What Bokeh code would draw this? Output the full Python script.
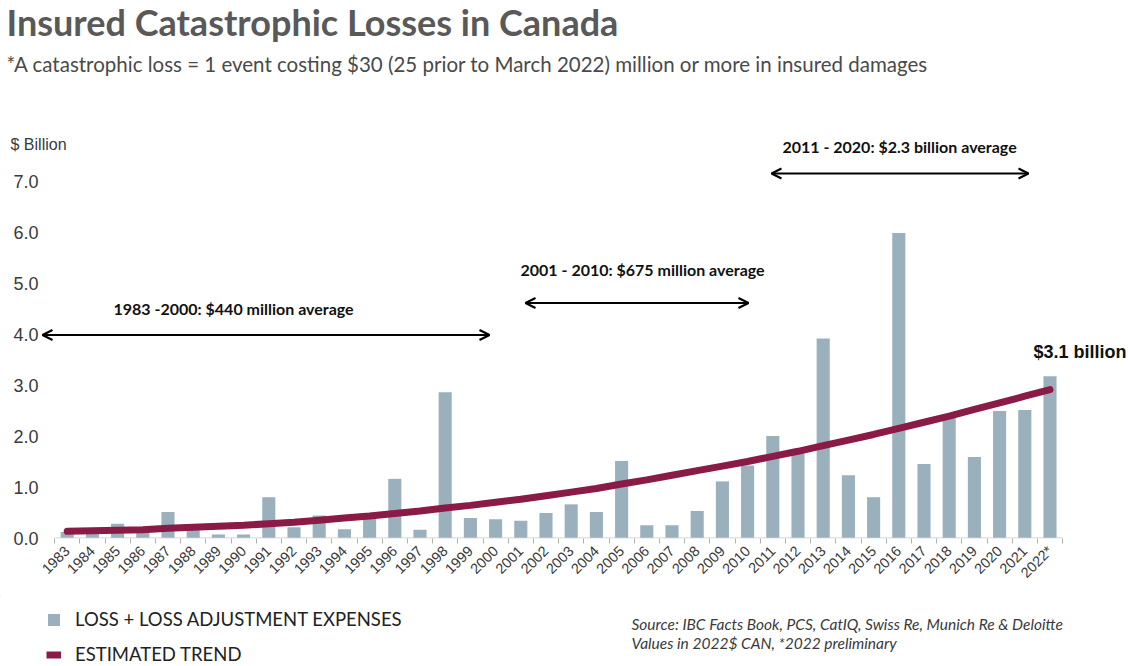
from math import pi
from bokeh.plotting import figure
from bokeh.layouts import column
from bokeh.models import (Range1d, FixedTicker, Label, Arrow, OpenHead, Legend,
                          LegendItem, ColumnDataSource, PrintfTickFormatter)
from bokeh.embed import file_html
from bokeh.resources import INLINE

# ---------------- data ----------------
years = list(range(1983, 2023))
year_labels = [str(y) for y in years[:-1]] + ["2022*"]
losses = [0.12, 0.13, 0.28, 0.15, 0.51, 0.20, 0.07, 0.07, 0.80, 0.21,
          0.44, 0.17, 0.40, 1.16, 0.16, 2.86, 0.39, 0.37, 0.34, 0.49,
          0.66, 0.51, 1.51, 0.25, 0.25, 0.53, 1.11, 1.42, 2.00, 1.66,
          3.91, 1.23, 0.80, 5.98, 1.45, 2.42, 1.59, 2.49, 2.51, 3.17]
trend = [0.13, 0.14, 0.15, 0.16, 0.19, 0.21, 0.23, 0.25, 0.28, 0.31,
         0.35, 0.39, 0.43, 0.48, 0.53, 0.59, 0.64, 0.70, 0.76, 0.83,
         0.90, 0.97, 1.06, 1.14, 1.23, 1.32, 1.41, 1.50, 1.60, 1.70,
         1.81, 1.92, 2.03, 2.15, 2.27, 2.39, 2.52, 2.65, 2.78, 2.91]
y_ticks = [0, 1, 2, 3, 4, 5, 6, 7]

BAR = "#9bb0bd"
TREND = "#8a1a46"
TXT = "#3a3a3a"
W = 1128
H_TOP = 156      # header panel height
M_BOT = 595      # main panel bottom (page px)
PAGE_H = 666

# page-pixel helpers (reference layout)
def px2yr(px):
    return years[0] + (px - 66.7) / 25.2

def px2y(py):
    return (537.5 - py) / 51.0

def blank(height):
    f = figure(width=W, height=height, output_backend="svg", toolbar_location=None,
               x_range=Range1d(0, W), y_range=Range1d(height, 0),
               x_axis_location=None, y_axis_location=None, title_location=None,
               min_border=0, min_border_left=0, min_border_right=0,
               min_border_top=0, min_border_bottom=0, frame_align=False)
    f.grid.visible = False
    f.outline_line_color = None
    f.background_fill_color = "white"
    f.border_fill_color = "white"
    return f

# ---------------- header ----------------
hdr = blank(H_TOP)
hdr.add_layout(Label(x=6, y=21, text="Insured Catastrophic Losses in Canada",
                     text_font="Lato", text_font_style="bold", text_font_size="36px",
                     text_color="#595959", text_baseline="alphabetic"))
hdr.add_layout(Label(x=6, y=63.5,
                     text="*A catastrophic loss = 1 event costing $30 (25 prior to March 2022) million or more in insured damages",
                     text_font="Lato", text_font_size="20.5px", text_color="#4a4a4a",
                     text_baseline="alphabetic"))
hdr.add_layout(Label(x=10, y=143.5, text="$ Billion", text_font="Liberation Sans",
                     text_font_size="16px", text_color=TXT, text_baseline="alphabetic"))
hdr.add_layout(Label(x=901, y=145.5, text="2011 - 2020:  $2.3 billion average", text_font="Lato",
                     text_font_style="bold", text_font_size="16px", text_color="#111111",
                     text_align="center", text_baseline="alphabetic"))

# ---------------- main chart ----------------
p = figure(width=W, height=M_BOT - H_TOP, output_backend="svg", toolbar_location=None,
           x_range=Range1d(px2yr(40), px2yr(W)),
           y_range=Range1d(px2y(538), px2y(H_TOP)),
           min_border_left=40, min_border_right=0, min_border_top=0,
           min_border_bottom=M_BOT - 538, frame_align=False)
p.grid.visible = False
p.outline_line_color = None
p.background_fill_color = "white"
p.border_fill_color = "white"

src = ColumnDataSource(dict(x=years, loss=losses, trend=trend))
bars = p.vbar(x="x", top="loss", width=0.52, source=src, fill_color=BAR,
              line_color=None)
tr = p.line(x="x", y="trend", source=src, line_width=7, line_color=TREND,
            line_cap="round")
p.segment(x0=[years[0] - 0.5], y0=[0], x1=[years[-1] + 0.5], y1=[0],
          line_color="#c8c8c8", line_width=1)

xa = p.xaxis[0]
xa.ticker = FixedTicker(ticks=years, minor_ticks=[y - 0.5 for y in years] + [years[-1] + 0.5])
xa.major_label_overrides = {y: lab for y, lab in zip(years, year_labels)}
xa.major_label_orientation = pi / 4
xa.major_tick_line_color = None
xa.major_tick_out = 0
xa.minor_tick_line_color = "#b0b0b0"
xa.minor_tick_out = 5
xa.minor_tick_in = 0
xa.axis_line_color = None
xa.major_label_text_font = "Liberation Sans"
xa.major_label_text_font_size = "14.5px"
xa.major_label_text_color = TXT
xa.major_label_standoff = 5

ya = p.yaxis[0]
ya.ticker = FixedTicker(ticks=y_ticks)
ya.formatter = PrintfTickFormatter(format="%.1f")
ya.axis_line_color = None
ya.major_tick_line_color = None
ya.major_tick_out = 0
ya.minor_tick_line_color = None
ya.major_label_standoff = 2
ya.major_label_text_font = "Liberation Sans"
ya.major_label_text_font_size = "18px"
ya.major_label_text_color = TXT

def arrow(ax0, ax1, ay):
    p.add_layout(Arrow(start=OpenHead(size=10, line_width=2.2, line_color="black"),
                       end=OpenHead(size=10, line_width=2.2, line_color="black"),
                       x_start=px2yr(ax0), y_start=px2y(ay), x_end=px2yr(ax1), y_end=px2y(ay),
                       line_width=2, line_color="black"))

def note(text, cx, base_y):
    p.add_layout(Label(x=px2yr(cx), y=px2y(base_y), text=text, text_font="Lato",
                       text_font_style="bold", text_font_size="16px", text_color="#111111",
                       text_align="center", text_baseline="alphabetic"))

note("1983 -2000:  $440 million average", 235, 308)
arrow(42, 489, 334.5)
note("2001 - 2010:  $675 million average", 644, 268.5)
arrow(525, 748, 302.5)
arrow(771, 1028, 173)

p.add_layout(Label(x=px2yr(1033), y=px2y(351.5), text="$3.1 billion", text_font="Liberation Sans",
                   text_font_style="bold", text_font_size="18px", text_color="#111111",
                   text_baseline="alphabetic"))

# ---------------- footer ----------------
ftr_h = PAGE_H - M_BOT
ftr = blank(ftr_h)
# legend proxies (kept outside the visible range; only their styles are shown)
lb = ftr.vbar(x=[-9999], top=[1], width=1, fill_color=BAR, line_color=None)
ll = ftr.line(x=[-9999, -9998], y=[1, 1], line_width=7, line_color=TREND)
legend = Legend(items=[LegendItem(label="LOSS + LOSS ADJUSTMENT EXPENSES", renderers=[lb]),
                       LegendItem(label="ESTIMATED TREND", renderers=[ll])],
                location=(46, 1), orientation="vertical",
                border_line_color=None, background_fill_alpha=0,
                label_text_font="Lato", label_text_font_size="18.5px",
                label_text_color="#222222", label_height=20,
                glyph_width=15, glyph_height=15, spacing=13, padding=0, margin=0,
                label_standoff=14)
ftr.add_layout(legend)
ftr.add_layout(Label(x=631, y=623.5 - M_BOT,
                     text="Source: IBC  Facts Book, PCS,  CatIQ, Swiss Re, Munich Re & Deloitte",
                     text_font="Lato", text_font_style="italic", text_font_size="15.5px",
                     text_color=TXT, text_baseline="alphabetic"))
ftr.add_layout(Label(x=631, y=642.5 - M_BOT, text="Values in 2022$ CAN, *2022 preliminary",
                     text_font="Lato", text_font_style="italic", text_font_size="15.5px",
                     text_color=TXT, text_baseline="alphabetic"))

layout = column(hdr, p, ftr, spacing=0)
open("out.html", "w").write(file_html(layout, INLINE))
